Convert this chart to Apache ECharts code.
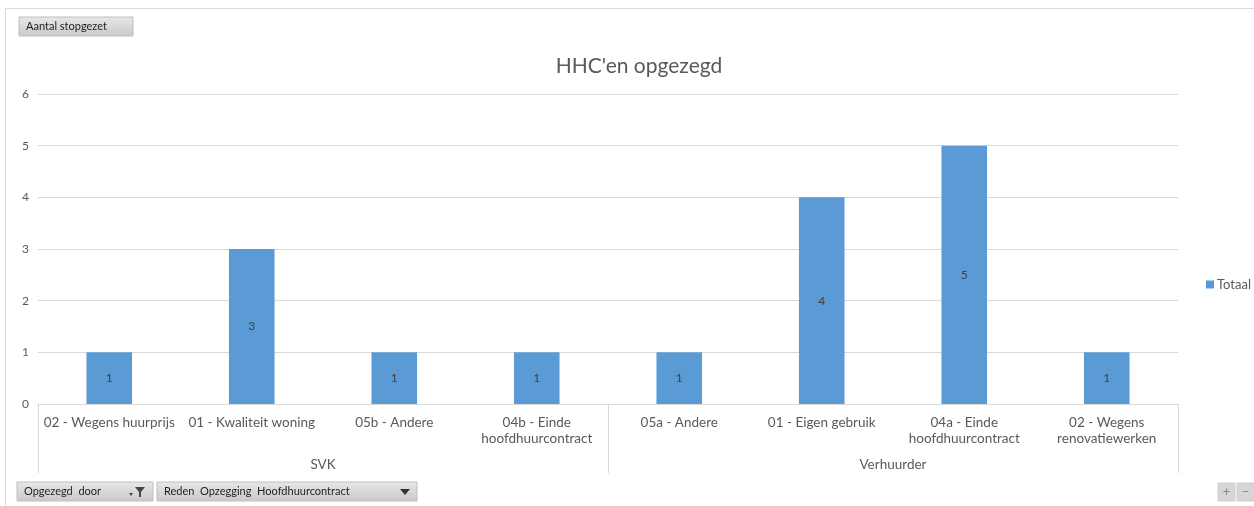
<!DOCTYPE html>
<html><head><meta charset="utf-8">
<script src="https://cdn.jsdelivr.net/npm/echarts@6/dist/echarts.min.js"></script>
<style>html,body{margin:0;padding:0;background:#fff}#c{width:1254px;height:506px}</style>
</head><body><div id="c"></div>
<script>
const categories = ['02 - Wegens huurprijs','01 - Kwaliteit woning','05b - Andere','04b - Einde\nhoofdhuurcontract','05a - Andere','01 - Eigen gebruik','04a - Einde\nhoofdhuurcontract','02 - Wegens\nrenovatiewerken'];
const groups = ['SVK','Verhuurder'];
const totaal = [1,3,1,1,1,4,5,1];
const yTicks = [0,1,2,3,4,5,6];
const FONT = 'Lato, "Open Sans", sans-serif';
const txt = '#595959';

function button(x,y,w,h,label,extra){
  const children=[{type:'rect',shape:{x:x,y:y,width:w,height:h},style:{fill:new echarts.graphic.LinearGradient(0,0,0,1,[{offset:0,color:'#e8e8e8'},{offset:1,color:'#c8c8c8'}]),stroke:'#c0c0c0',lineWidth:1}},
    {type:'text',x:x+7,y:y+h/2,style:{text:label,fill:'#1f1f1f',font:'11px '+FONT,verticalAlign:'middle'}}];
  return children.concat(extra||[]);
}
const chart = echarts.init(document.getElementById('c'));
chart.setOption({
  animation:false,
  backgroundColor:'#fff',
  title:{text:"HHC'en opgezegd",left:634,top:51,textAlign:'center',textStyle:{fontFamily:FONT,fontSize:21,fontWeight:'normal',color:txt}},
  legend:{data:['Totaal'],left:1201,top:273,icon:'rect',itemWidth:8,itemHeight:8,itemGap:4,textStyle:{fontFamily:FONT,fontSize:13,color:txt,padding:[0,0,0,-2]}},
  grid:{left:38,right:76,top:94,bottom:102,containLabel:false},
  xAxis:[{type:'category',data:categories,gridIndex:0,position:'bottom',
      axisLine:{lineStyle:{color:'#d9d9d9'}},axisTick:{show:false},
      axisLabel:{interval:0,margin:11,fontFamily:FONT,fontSize:13.5,color:txt,lineHeight:16}},
    {type:'category',data:groups,gridIndex:0,position:'bottom',
      axisLine:{show:false},axisTick:{show:true,length:69,interval:0,lineStyle:{color:'#d9d9d9'}},
      axisLabel:{interval:0,margin:54,fontFamily:FONT,fontSize:13.5,color:txt}}],
  yAxis:{type:'value',min:yTicks[0],max:yTicks[yTicks.length-1],interval:1,
    axisLine:{show:false},axisTick:{show:false},
    axisLabel:{margin:16,fontFamily:FONT,fontSize:12,color:txt,align:'left'},
    splitLine:{lineStyle:{color:'#d9d9d9'}}},
  series:[{name:'Totaal',type:'bar',xAxisIndex:0,data:totaal,barCategoryGap:'68%',
    itemStyle:{color:'#5b9bd5'},
    label:{show:true,position:'inside',fontFamily:FONT,fontSize:12,color:'#404040'}}],
  graphic:[
    {type:'rect',shape:{x:5.5,y:8.5,width:1260,height:520},style:{fill:null,stroke:'#d9d9d9',lineWidth:1},silent:true},
    {type:'group',children:button(19,17,114,19,'Aantal stopgezet')},
    {type:'group',children:button(17,482,136,19,'Opgezegd  door',[
      {type:'polygon',shape:{points:[[135,487],[145,487],[141,492],[141,497],[139,497],[139,492]]},style:{fill:'#444'}},
      {type:'polygon',shape:{points:[[129,493],[133,493],[131,496]]},style:{fill:'#444'}}])},
    {type:'group',children:button(157,482,260,19,'Reden  Opzegging  Hoofdhuurcontract',[
      {type:'polygon',shape:{points:[[400,489],[410,489],[405,495]]},style:{fill:'#333'}}])},
    {type:'group',children:[
      {type:'rect',shape:{x:1218,y:483,width:17,height:18},style:{fill:'#d6d6d6',stroke:'#cfcfcf'}},
      {type:'text',x:1226.5,y:492,style:{text:'+',fill:'#888',font:'13px '+FONT,align:'center',verticalAlign:'middle'}},
      {type:'rect',shape:{x:1237,y:483,width:17,height:18},style:{fill:'#d6d6d6',stroke:'#cfcfcf'}},
      {type:'text',x:1245.5,y:492,style:{text:'−',fill:'#888',font:'13px '+FONT,align:'center',verticalAlign:'middle'}}]}
  ]
});
</script></body></html>
